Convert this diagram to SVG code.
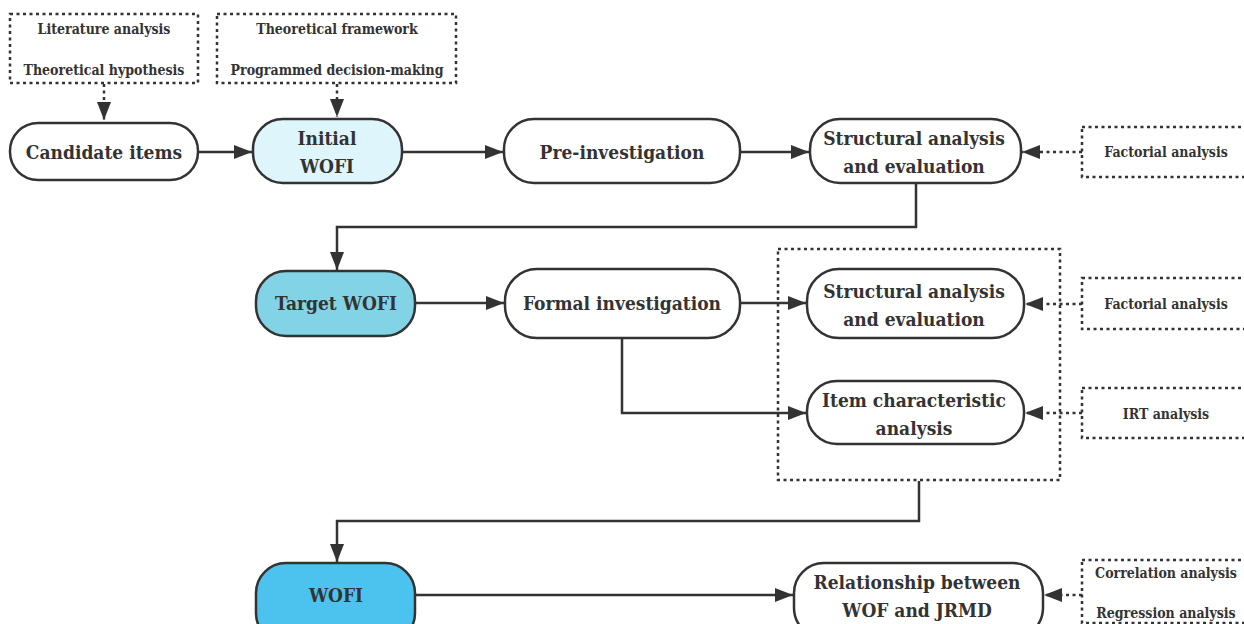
<svg xmlns="http://www.w3.org/2000/svg" width="1244" height="624" viewBox="0 0 1244 624">
<defs>
<style>
.n{fill:#fff;stroke:#333;stroke-width:2.5}
.d{fill:none;stroke:#333;stroke-width:2.5;stroke-dasharray:3 3.5}
.c{fill:none;stroke:#333;stroke-width:2.5}
.cd{fill:none;stroke:#333;stroke-width:2.5;stroke-dasharray:3 3.5}
text{font-weight:bold;fill:#333;text-anchor:middle}
.big{font-size:19px;font-family:'DejaVu Serif',serif;font-stretch:condensed}
.sm{font-size:14px;font-family:'DejaVu Serif Condensed','DejaVu Serif',serif;font-stretch:condensed}
</style>
<marker id="a" markerUnits="userSpaceOnUse" markerWidth="18" markerHeight="14" viewBox="0 0 18 14" refX="18" refY="7" orient="auto">
<path d="M0,0 L18,7 L0,14 Z" fill="#333"/>
</marker>
</defs>
<rect width="1244" height="624" fill="#fff"/>
<g id="connectors">
<path class="cd" d="M104,84 V120" marker-end="url(#a)"/>
<path class="cd" d="M337,84 V117" marker-end="url(#a)"/>
<path class="c" d="M198,152 H252" marker-end="url(#a)"/>
<path class="c" d="M402,152 H503" marker-end="url(#a)"/>
<path class="c" d="M740,152 H809" marker-end="url(#a)"/>
<path class="cd" d="M1082,152 H1022" marker-end="url(#a)"/>
<path class="c" d="M916,183 V227 H337 V270" marker-end="url(#a)"/>
<path class="c" d="M415,303 H504" marker-end="url(#a)"/>
<path class="c" d="M740,303 H806" marker-end="url(#a)"/>
<path class="cd" d="M1082,304 H1025" marker-end="url(#a)"/>
<path class="c" d="M622,338 V413 H806" marker-end="url(#a)"/>
<path class="cd" d="M1082,413 H1025" marker-end="url(#a)"/>
<path class="c" d="M919,481 V521 H337 V562" marker-end="url(#a)"/>
<path class="c" d="M415,595 H793" marker-end="url(#a)"/>
<path class="cd" d="M1082,595 H1044" marker-end="url(#a)"/>
</g>
<g id="lit">
<rect class="d" x="10" y="14" width="188" height="69"/>
<text class="sm" x="104" y="34">Literature analysis</text>
<text class="sm" x="104" y="75">Theoretical hypothesis</text>
</g>
<g id="theo">
<rect class="d" x="217" y="14" width="239" height="69"/>
<text class="sm" x="337" y="34">Theoretical framework</text>
<text class="sm" x="337" y="75">Programmed decision-making</text>
</g>
<g id="candidate">
<rect class="n" x="10" y="123" width="188" height="57" rx="28"/>
<text class="big" x="104" y="159">Candidate items</text>
</g>
<g id="initial">
<rect class="n" x="253" y="119" width="149" height="64" rx="30" style="fill:#dff5fc"/>
<text class="big" x="327" y="145">Initial</text>
<text class="big" x="327" y="173">WOFI</text>
</g>
<g id="pre">
<rect class="n" x="504" y="119" width="236" height="64" rx="30"/>
<text class="big" x="622" y="159">Pre-investigation</text>
</g>
<g id="struct1">
<rect class="n" x="810" y="119" width="211" height="64" rx="30"/>
<text class="big" x="914" y="145">Structural analysis</text>
<text class="big" x="914" y="173">and evaluation</text>
</g>
<g id="fact1">
<rect class="d" x="1082" y="127" width="180" height="50"/>
<text class="sm" x="1166" y="157">Factorial analysis</text>
</g>
<g id="target">
<rect class="n" x="256" y="271" width="159" height="65" rx="30" style="fill:#82d3e6"/>
<text class="big" x="336" y="310">Target WOFI</text>
</g>
<g id="formal">
<rect class="n" x="505" y="269" width="235" height="69" rx="32"/>
<text class="big" x="622" y="310">Formal investigation</text>
</g>
<g id="group">
<rect class="d" x="778" y="249" width="282" height="231"/>
</g>
<g id="struct2">
<rect class="n" x="807" y="269" width="217" height="69" rx="32"/>
<text class="big" x="914" y="298">Structural analysis</text>
<text class="big" x="914" y="326">and evaluation</text>
</g>
<g id="fact2">
<rect class="d" x="1082" y="278" width="180" height="51"/>
<text class="sm" x="1166" y="309">Factorial analysis</text>
</g>
<g id="item">
<rect class="n" x="807" y="381" width="217" height="63" rx="30"/>
<text class="big" x="914" y="407">Item characteristic</text>
<text class="big" x="914" y="435">analysis</text>
</g>
<g id="irt">
<rect class="d" x="1082" y="388" width="180" height="50"/>
<text class="sm" x="1166" y="419">IRT analysis</text>
</g>
<g id="wofi">
<rect class="n" x="256" y="563" width="159" height="80" rx="30" style="fill:#4cc3ee"/>
<text class="big" x="336" y="602">WOFI</text>
</g>
<g id="rel">
<rect class="n" x="794" y="563" width="249" height="75" rx="30"/>
<text class="big" x="917" y="589">Relationship between</text>
<text class="big" x="917" y="617">WOF and JRMD</text>
</g>
<g id="corr">
<rect class="d" x="1082" y="560" width="180" height="63"/>
<text class="sm" x="1166" y="578">Correlation analysis</text>
<text class="sm" x="1166" y="618">Regression analysis</text>
</g>
</svg>
